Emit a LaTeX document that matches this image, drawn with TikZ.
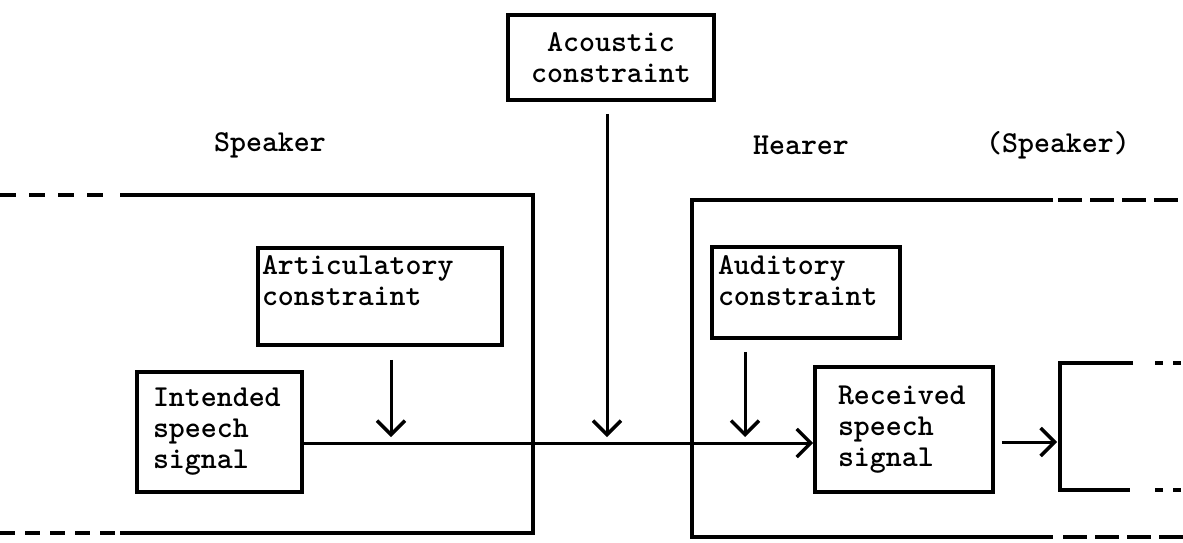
\documentclass[tikz,border=0pt]{standalone}
\usepackage{tikz}
\usetikzlibrary{arrows.meta}

\begin{document}
\begin{tikzpicture}[x=0.5pt,y=-0.5pt,
        txt/.style={font=\fontsize{15.2}{15.5}\selectfont\ttfamily\fontseries{b}\selectfont},
        box/.style={txt,draw,line width=1.9pt,inner sep=0pt,align=left},
        frame/.style={line width=1.6pt},
        sig/.style={line width=1.5pt,-{Straight Barb[length=7pt,width=14pt,line width=1.7pt]}}]
        \useasboundingbox (0,0) rectangle (1183,542);

        % constraint boxes
        \node[box,align=center,minimum width=103pt,minimum height=42.5pt] (acoustic) at (611,57.5) {Acoustic\\constraint};
        \node[box,text width=118pt,minimum width=122pt,minimum height=48.5pt] (artic) at (380,296.5) {Articulatory\\constraint\\\mbox{}};
        \node[box,text width=88pt,minimum width=94pt,minimum height=45.5pt] (auditory) at (806,292.5) {\rule{0pt}{13pt}Auditory\\constraint\\\mbox{}};

        % signal boxes
        \node[box,text width=66.5pt,minimum width=82.5pt,minimum height=60pt] (intended) at (219.5,432) {Intended\\speech\\signal};
        \node[box,text width=66pt,minimum width=89pt,minimum height=62.5pt] (received) at (904,429.5) {Received\\speech\\signal};

        \node[txt] (speaker) at (270,145) {Speaker};
        \node[txt] (hearer) at (801,145) {Hearer};
        \node[txt] (speaker2) at (1058,145) {(Speaker)};

        % speaker frame
        \draw[frame] (120,195) -- (533,195) -- (533,533) -- (120,533);
        \draw[frame,dash pattern=on 8pt off 6.5pt] (0,195) -- (108,195);
        \draw[frame,dash pattern=on 7.5pt off 5pt] (0,533) -- (116,533);

        % hearer frame
        \draw[frame] (1053,200) -- (692,200) -- (692,537) -- (1053,537);
        \draw[frame,dash pattern=on 12pt off 4pt] (1058,200) -- (1183,200);
        \draw[frame,dash pattern=on 12pt off 4pt] (1063,537) -- (1183,537);

        % next box, left open
        \draw[frame] (1133,363) -- (1060,363) -- (1060,490) -- (1130,490);
        \draw[frame,dash pattern=on 4pt off 5pt] (1155,363) -- (1183,363);
        \draw[frame,dash pattern=on 4pt off 5pt] (1155,490) -- (1183,490);

        \coordinate (line) at (0,443);
        \coordinate (artin) at (391,437);
        \coordinate (acin) at (607,437);
        \coordinate (audin) at (745,437);
        \coordinate (nxt) at (1057,442);

        \draw[sig] (intended.east |- line) -- (received.west |- line);
        \draw[sig,shorten <=6pt] (acin |- acoustic.south) -- (acin);
        \draw[sig,shorten <=6.5pt] (artin |- artic.south) -- (artin);
        \draw[sig,shorten <=6pt] (audin |- auditory.south) -- (audin);
        \draw[sig,shorten <=3.5pt] (received.east |- nxt) -- (nxt);
\end{tikzpicture}
\end{document}
